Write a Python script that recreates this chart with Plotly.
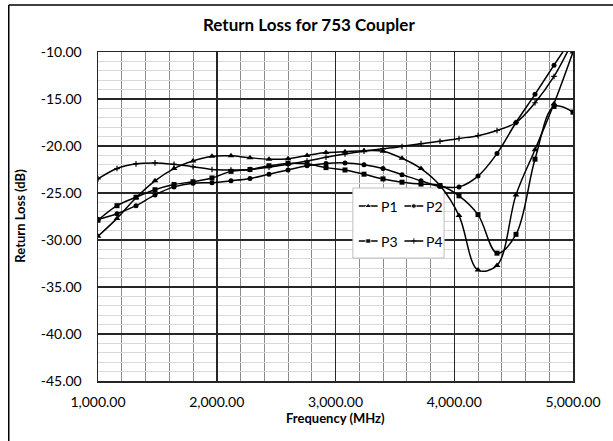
import plotly.graph_objects as go

freq = [1000, 1160, 1320, 1480, 1640, 1800, 1960, 2120, 2280, 2440, 2600, 2760, 2920,
        3080, 3240, 3400, 3560, 3720, 3880, 4040, 4200, 4360, 4520, 4680, 4840, 5000]

p1 = [-29.6, -27.7, -25.5, -23.7, -22.4, -21.6, -21.1, -21.05, -21.25, -21.4, -21.35, -21.0, -20.7,
      -20.6, -20.5, -20.55, -21.3, -22.4, -24.2, -27.4, -33.2, -32.7, -25.2, -20.4, -15.5, -10.0]
p2 = [-27.8, -27.2, -26.35, -25.2, -24.35, -23.95, -23.9, -23.7, -23.45, -23.0, -22.55, -22.1, -21.85,
      -21.8, -22.0, -22.4, -23.05, -23.7, -24.3, -24.35, -23.2, -20.8, -17.5, -14.5, -11.4, -8.4]
p3 = [-27.9, -26.35, -25.45, -24.65, -24.1, -23.8, -23.4, -22.7, -22.5, -22.1, -21.85, -21.9, -22.3,
      -22.55, -23.0, -23.5, -23.85, -24.05, -24.2, -25.3, -27.3, -31.4, -29.4, -21.4, -15.8, -16.4]
p4 = [-23.5, -22.4, -21.9, -21.8, -21.95, -22.2, -22.5, -22.55, -22.5, -22.25, -21.95, -21.6, -21.2,
      -20.85, -20.55, -20.3, -20.05, -19.75, -19.5, -19.2, -18.9, -18.35, -17.5, -15.4, -12.6, -8.8]

y_tickvals = [-45, -40, -35, -30, -25, -20, -15, -10]
y_ticktext = ["-45.00", "-40.00", "-35.00", "-30.00", "-25.00", "-20.00", "-15.00", "-10.00"]
series_names = ["P1", "P2", "P3", "P4"]

markers = {
    "P1": dict(symbol="triangle-up", size=6),
    "P2": dict(symbol="circle", size=5),
    "P3": dict(symbol="square", size=5),
    "P4": dict(symbol="cross-thin", size=4, line=dict(width=1.2, color="black")),
}

FONT = "Lato"
W, H = 613, 441
L, R, T, B = 98, 577, 52, 381
X0, X1, Y0, Y1 = 1000, 5000, -45, -10


def px(x):
    return (x - L) / (R - L)


def py(y):
    return (B - y) / (B - T)


def dx(x):  # pixel -> data (x)
    return X0 + (x - L) / (R - L) * (X1 - X0)


def dy(y):  # pixel -> data (y)
    return Y1 - (y - T) / (B - T) * (Y1 - Y0)


fig = go.Figure()
for name, vals in zip(series_names, [p1, p2, p3, p4]):
    fig.add_trace(go.Scatter(
        x=freq, y=vals, name=name, mode="lines+markers",
        line=dict(color="black", width=1.5, shape="spline", smoothing=1.0),
        marker=dict(color="black", **markers[name]), showlegend=False,
    ))

# legend (2 x 2 grid) positions in pixels
leg_pos = {"P1": (361, 206), "P2": (407, 206), "P3": (361, 241), "P4": (407, 241)}
annotations = []
for name in series_names:
    x0, yy = leg_pos[name]
    mk = dict(markers[name])
    fig.add_trace(go.Scatter(
        x=[dx(x0), dx(x0 + 9.5), dx(x0 + 19)], y=[dy(yy)] * 3, mode="lines+markers",
        showlegend=False, hoverinfo="skip", cliponaxis=False,
        line=dict(color="black", width=1.5),
        marker=dict(color="black", symbol=mk.pop("symbol"), size=[0, mk.pop("size"), 0], **mk),
    ))
    annotations.append(dict(text=name, xref="x", yref="y", x=dx(x0 + 20), y=dy(yy),
                            xanchor="left", yanchor="middle", showarrow=False,
                            font=dict(size=14, family=FONT, color="black")))

annotations += [
    dict(text="<b>Return Loss for 753 Coupler</b>", xref="paper", yref="paper",
         x=px(311), y=py(24), xanchor="center", yanchor="middle", showarrow=False,
         font=dict(size=17, family=FONT)),
    dict(text="<b>Return Loss (dB)</b>", xref="paper", yref="paper", textangle=-90,
         x=px(19), y=py(216), xanchor="center", yanchor="middle", showarrow=False,
         font=dict(size=13, family=FONT)),
    dict(text="<b>Frequency (MHz)</b>", xref="paper", yref="paper",
         x=px(338), y=py(418), xanchor="center", yanchor="middle", showarrow=False,
         font=dict(size=13, family=FONT)),
]

fig.update_layout(
    width=W, height=H,
    margin=dict(l=L, r=W - R, t=T, b=H - B),
    paper_bgcolor="white", plot_bgcolor="white",
    font=dict(family=FONT, size=14, color="black"),
    showlegend=False,
    xaxis=dict(range=[X0, X1], dtick=1000, tick0=1000, tickformat=",.2f",
               showgrid=True, gridcolor="#262626", gridwidth=1.5,
               minor=dict(dtick=200, tick0=1000, showgrid=True, gridcolor="#8c8c8c", gridwidth=1),
               showline=True, linecolor="#262626", linewidth=1.5, mirror=True,
               zeroline=False, ticks="", ticklabelstandoff=8, fixedrange=True,
               tickfont=dict(size=14, family=FONT)),
    yaxis=dict(range=[Y0, Y1], tickmode="array", tickvals=y_tickvals, ticktext=y_ticktext,
               showgrid=True, gridcolor="#262626", gridwidth=1.5,
               minor=dict(dtick=1, tick0=-45, showgrid=True, gridcolor="#d9d9d9", gridwidth=1),
               showline=True, linecolor="#262626", linewidth=1.5, mirror=True,
               zeroline=False, ticks="", ticklabelstandoff=12, fixedrange=True,
               tickfont=dict(size=14, family=FONT)),
    shapes=[
        dict(type="rect", xref="x", yref="y", x0=dx(355), x1=dx(447), y0=dy(258), y1=dy(188),
             fillcolor="white", line=dict(color="#bfbfbf", width=1), layer="between"),
        dict(type="line", xref="paper", yref="paper", x0=px(8), x1=px(8), y0=py(5), y1=py(460),
             line=dict(color="black", width=1.5)),
        dict(type="line", xref="paper", yref="paper", x0=px(8), x1=px(640), y0=py(5), y1=py(5),
             line=dict(color="black", width=1.5)),
    ],
    annotations=annotations,
)

fig.write_html("out.html", config={"displayModeBar": False, "staticPlot": True},
               post_script="document.body.style.margin='0';document.body.style.overflow='hidden';")
